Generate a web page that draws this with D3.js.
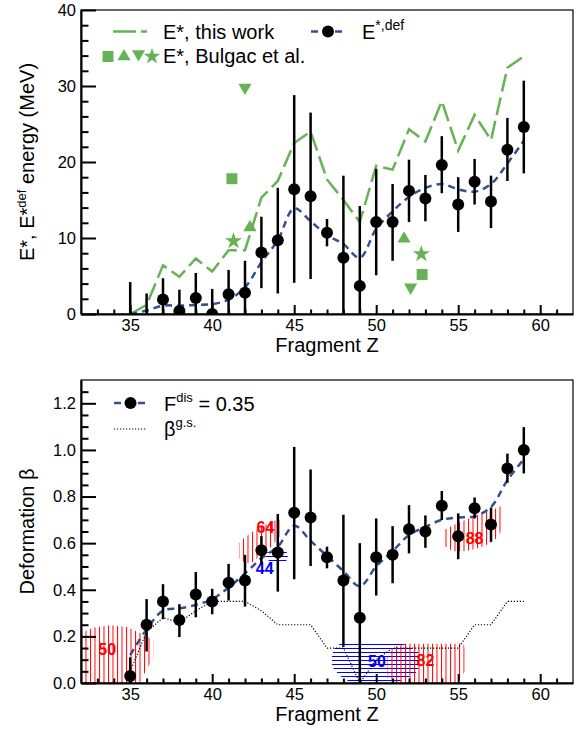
<!DOCTYPE html>
<html>
<head>
<meta charset="utf-8">
<script src="https://cdn.jsdelivr.net/npm/d3@7"></script>
<style>
  body { margin: 0; background: #fff; }
  text { font-family: "Liberation Sans", Arial, Helvetica, sans-serif; }
</style>
</head>
<body>
<div id="chart"></div>
<script>
// fragment charge
const fragZ = [35, 36, 37, 38, 39, 40, 41, 42, 43, 44, 45, 46, 47, 48, 49, 50, 51, 52, 53, 54, 55, 56, 57, 58, 59];

// top panel: excitation energy (MeV)
const eStarThisWork = [0.0, 1.2, 6.4, 4.9, 7.3, 5.6, 8.4, 8.4, 15.3, 17.5, 22.5, 24.0, 17.7, 15.0, 12.1, 19.5, 19.0, 24.3, 22.7, 28.0, 21.5, 26.2, 22.9, 32.4, 33.9];
const eDefValue = [null, null, 1.9, 0.4, 2.1, 0.0, 2.6, 2.8, 8.1, 9.7, 16.4, 15.5, 10.7, 7.4, 3.7, 12.1, 12.1, 16.2, 15.2, 19.6, 14.4, 17.4, 14.8, 21.6, 24.6];
const eDefLow = [0, 0, 0, 0, 0, 0, 0, 0, 3.4, 2.7, 4.1, 4.6, 8.9, 0, 0, 5.1, 7.0, 12.1, 12.2, 15.9, 10.8, 14.4, 11.3, 17.5, 18.5];
const eDefHigh = [4.2, 2.7, 4.7, 3.2, 5.4, 3.3, 5.8, 7.0, 12.8, 16.6, 28.8, 26.5, 12.5, 18.2, 14.2, 19.1, 17.1, 20.3, 18.3, 23.4, 18.0, 20.4, 18.2, 25.8, 30.7];
const eDefSmooth = [0.0, 0.45, 1.1, 1.1, 1.2, 1.3, 1.9, 3.5, 6.8, 9.7, 13.9, 12.2, 10.4, 9.2, 7.4, 11.2, 13.5, 15.4, 16.6, 17.1, 16.4, 16.1, 17.1, 19.8, 22.8];

// Bulgac et al. points [Z, E*]
const bulgacSquare = [[41.2, 17.8], [52.8, 5.2]];
const bulgacUp = [[42.3, 11.4], [51.7, 9.9]];
const bulgacDown = [[42.0, 29.8], [52.1, 3.5]];
const bulgacStar = [[41.3, 9.6], [52.75, 7.9]];

// bottom panel: deformation
const betaValue = [0.03, 0.25, 0.35, 0.27, 0.38, 0.35, 0.43, 0.44, 0.57, 0.56, 0.73, 0.71, 0.54, 0.44, 0.28, 0.54, 0.55, 0.66, 0.65, 0.76, 0.63, 0.75, 0.68, 0.92, 1.00];
const betaLow = [0, 0.135, 0.274, 0.197, 0.282, 0.295, 0.354, 0.328, 0.51, 0.392, 0.445, 0.502, 0.492, 0.155, 0, 0.375, 0.428, 0.556, 0.58, 0.699, 0.531, 0.706, 0.606, 0.859, 0.899];
const betaHigh = [0.11, 0.36, 0.424, 0.338, 0.476, 0.404, 0.511, 0.55, 0.63, 0.725, 1.013, 0.916, 0.585, 0.722, 0.60, 0.706, 0.673, 0.763, 0.719, 0.824, 0.728, 0.796, 0.753, 0.984, 1.098];
const betaFdis = [0.12, 0.23, 0.31, 0.32, 0.335, 0.36, 0.41, 0.47, 0.535, 0.585, 0.675, 0.61, 0.545, 0.48, 0.415, 0.5, 0.565, 0.635, 0.67, 0.70, 0.71, 0.715, 0.755, 0.87, 0.96];
const betaGs = [0.05, 0.22, 0.28, 0.26, 0.31, 0.35, 0.35, 0.35, 0.31, 0.25, 0.25, 0.25, 0.15, 0.15, 0.0, 0.10, 0.15, 0.15, 0.15, 0.15, 0.15, 0.25, 0.25, 0.35, 0.35];

// shell regions, outlines in [Z, beta]
const shellRegions = [
  { hatch: 'red', pts: [[32, 0], [32, 0.215], [32.8, 0.238], [33.8, 0.248], [34.8, 0.24], [35.6, 0.215], [36.4, 0.185], [36.4, 0.10], [36.0, 0.06], [35.6, 0]] },
  { hatch: 'red', pts: [[41.65, 0.535], [41.65, 0.6], [42.0, 0.625], [42.5, 0.65], [43.0, 0.67], [43.5, 0.69], [44.1, 0.70], [44.1, 0.63], [43.6, 0.585], [43.0, 0.55], [42.4, 0.515], [42.0, 0.515]] },
  { hatch: 'blue', pts: [[43.2, 0.545], [43.5, 0.572], [44.4, 0.575], [44.65, 0.55], [44.5, 0.52], [43.5, 0.52]] },
  { hatch: 'blue', pts: [[47.3, 0.12], [47.5, 0.155], [48.0, 0.176], [50.8, 0.176], [51.8, 0.165], [52.6, 0.13], [52.7, 0.08], [52.4, 0.04], [51.5, 0.01], [50.5, 0.0], [48.5, 0.0], [47.8, 0.03], [47.3, 0.07]] },
  { hatch: 'red', pts: [[50.7, 0.02], [50.7, 0.11], [51.0, 0.15], [51.6, 0.168], [55.3, 0.168], [55.4, 0.15], [55.4, 0.05], [55.0, 0.0], [51.0, 0.0]] },
  { hatch: 'red', pts: [[54.1, 0.59], [54.1, 0.655], [55.0, 0.688], [56.0, 0.715], [57.0, 0.74], [57.7, 0.76], [57.7, 0.66], [57.2, 0.61], [56.5, 0.585], [55.5, 0.565], [54.7, 0.565]] }
];
const shellLabels = [
  { text: '50', z: 33.6, b: 0.146, color: '#ff0000' },
  { text: '64', z: 43.25, b: 0.668, color: '#ff0000' },
  { text: '44', z: 43.2, b: 0.492, color: '#0000ff' },
  { text: '50', z: 50.05, b: 0.095, color: '#0000ff' },
  { text: '82', z: 53.0, b: 0.098, color: '#ff0000' },
  { text: '88', z: 56.0, b: 0.62, color: '#ff0000' }
];

const xMajor = [35, 40, 45, 50, 55, 60];
const xMinor = [33, 34, 36, 37, 38, 39, 41, 42, 43, 44, 46, 47, 48, 49, 51, 52, 53, 54, 56, 57, 58, 59, 61];
const yTopMajor = [0, 10, 20, 30, 40];
const yTopMinor = [2, 4, 6, 8, 12, 14, 16, 18, 22, 24, 26, 28, 32, 34, 36, 38];
const yBotMajor = [0, 0.2, 0.4, 0.6, 0.8, 1.0, 1.2];
const yBotMinor = [0.05, 0.1, 0.15, 0.25, 0.3, 0.35, 0.45, 0.5, 0.55, 0.65, 0.7, 0.75, 0.85, 0.9, 0.95, 1.05, 1.1, 1.15, 1.25];

const green = '#66b356';
const navy = '#34508e';

const width = 583;
const height = 729;

const svg = d3.select('#chart').append('svg')
  .attr('width', width)
  .attr('height', height)
  .attr('viewBox', `0 0 ${width} ${height}`);

const defs = svg.append('defs');

const hatchRed = defs.append('pattern').attr('id', 'hatch-red')
  .attr('patternUnits', 'userSpaceOnUse').attr('width', 4.5).attr('height', 10);
hatchRed.append('rect').attr('x', 0).attr('y', 0).attr('width', 1).attr('height', 10)
  .attr('fill', '#ff0000');

const hatchBlue = defs.append('pattern').attr('id', 'hatch-blue')
  .attr('patternUnits', 'userSpaceOnUse').attr('width', 10).attr('height', 4);
hatchBlue.append('rect').attr('x', 0).attr('y', 0).attr('width', 10).attr('height', 1)
  .attr('fill', '#0000ff');

const x = d3.scaleLinear().domain([32, 62]).range([81, 573]);
const yTop = d3.scaleLinear().domain([0, 40]).range([314, 10]);
const yBot = d3.scaleLinear().domain([0, 1.3]).range([683, 380]);

function clip(id, y) {
  defs.append('clipPath').attr('id', id).append('rect')
    .attr('x', x.range()[0]).attr('y', y.range()[1])
    .attr('width', x.range()[1] - x.range()[0])
    .attr('height', y.range()[0] - y.range()[1]);
}
clip('clip-top', yTop);
clip('clip-bot', yBot);

function drawAxes(y, major, minor, fmt) {
  const g = svg.append('g');
  g.append('rect')
    .attr('x', x.range()[0]).attr('y', y.range()[1])
    .attr('width', x.range()[1] - x.range()[0])
    .attr('height', y.range()[0] - y.range()[1])
    .attr('fill', 'none').attr('stroke', '#000').attr('stroke-width', 1.2);

  const xb = g.append('g').attr('transform', `translate(0, ${y.range()[0]})`);
  xb.call(d3.axisBottom(x).tickValues(xMajor).tickSize(-9).tickSizeOuter(0).tickPadding(5));
  xb.append('g').call(d3.axisBottom(x).tickValues(xMinor).tickSize(-4.5).tickFormat(''))
    .select('.domain').remove();

  const yl = g.append('g').attr('transform', `translate(${x.range()[0]}, 0)`);
  yl.call(d3.axisLeft(y).tickValues(major).tickSize(-15).tickSizeOuter(0).tickPadding(5).tickFormat(fmt));
  yl.append('g').call(d3.axisLeft(y).tickValues(minor).tickSize(-7.5).tickFormat(''))
    .select('.domain').remove();

  g.selectAll('.domain').attr('stroke-width', 2);
  g.selectAll('.tick line').attr('stroke-width', 2);
  g.selectAll('.tick text').attr('font-size', 16.5).attr('fill', '#000')
    .style('font-family', '"Liberation Sans", Arial, sans-serif');
  return g;
}

// ---------- top panel ----------
const topG = svg.append('g').attr('clip-path', 'url(#clip-top)');
const zData = fragZ.map((z, i) => ({ z, i }));

topG.append('path')
  .datum(zData)
  .attr('fill', 'none')
  .attr('stroke', green)
  .attr('stroke-width', 2.5)
  .attr('stroke-dasharray', '18,6')
  .attr('d', d3.line().x(d => x(d.z)).y(d => yTop(eStarThisWork[d.i])));

topG.append('path')
  .datum(zData)
  .attr('fill', 'none')
  .attr('stroke', navy)
  .attr('stroke-width', 2.5)
  .attr('stroke-dasharray', '7,5')
  .attr('d', d3.line().curve(d3.curveCatmullRom).x(d => x(d.z)).y(d => yTop(eDefSmooth[d.i])));

topG.selectAll('line.err')
  .data(zData)
  .join('line')
  .attr('class', 'err')
  .attr('x1', d => x(d.z)).attr('x2', d => x(d.z))
  .attr('y1', d => yTop(eDefLow[d.i])).attr('y2', d => yTop(eDefHigh[d.i]))
  .attr('stroke', '#000').attr('stroke-width', 2.5);

topG.selectAll('circle')
  .data(zData.filter(d => eDefValue[d.i] !== null))
  .join('circle')
  .attr('cx', d => x(d.z)).attr('cy', d => yTop(eDefValue[d.i]))
  .attr('r', 6).attr('fill', '#000');

const symbolSets = [
  { data: bulgacSquare, type: d3.symbolSquare, size: 120, rot: 0 },
  { data: bulgacUp, type: d3.symbolTriangle, size: 75, rot: 0 },
  { data: bulgacDown, type: d3.symbolTriangle, size: 75, rot: 180 },
  { data: bulgacStar, type: d3.symbolStar, size: 90, rot: 0 }
];
symbolSets.forEach(s => {
  topG.selectAll(null)
    .data(s.data)
    .join('path')
    .attr('transform', d => `translate(${x(d[0])}, ${yTop(d[1])}) rotate(${s.rot})`)
    .attr('d', d3.symbol().type(s.type).size(s.size))
    .attr('fill', green);
});

drawAxes(yTop, yTopMajor, yTopMinor, d3.format('d'));

// top legend
const legTop = svg.append('g');
legTop.append('line').attr('x1', 113).attr('x2', 147).attr('y1', 31.5).attr('y2', 31.5)
  .attr('stroke', green).attr('stroke-width', 2.5).attr('stroke-dasharray', '23,5');
legTop.append('text').attr('x', 163).attr('y', 39).attr('font-size', 20).text('E*, this work');

[[d3.symbolSquare, 108, 0, 120], [d3.symbolTriangle, 124, 0, 75], [d3.symbolTriangle, 138.5, 180, 75], [d3.symbolStar, 152, 0, 85]]
  .forEach(([type, px, rot, size]) => {
    legTop.append('path')
      .attr('transform', `translate(${px}, ${rot ? 54 : 56.5}) rotate(${rot})`)
      .attr('d', d3.symbol().type(type).size(size))
      .attr('fill', green);
  });
legTop.append('text').attr('x', 163).attr('y', 63).attr('font-size', 20).text('E*, Bulgac et al.');

legTop.append('line').attr('x1', 311).attr('x2', 345).attr('y1', 31.5).attr('y2', 31.5)
  .attr('stroke', navy).attr('stroke-width', 2.5).attr('stroke-dasharray', '7,5');
legTop.append('circle').attr('cx', 328).attr('cy', 31.5).attr('r', 6).attr('fill', '#000');
const tDef = legTop.append('text').attr('x', 362).attr('y', 39).attr('font-size', 20);
tDef.append('tspan').text('E');
tDef.append('tspan').attr('font-size', 14).attr('dy', -9).text('*,def');

// top titles
svg.append('text').attr('x', 327).attr('y', 352).attr('font-size', 20)
  .attr('text-anchor', 'middle').text('Fragment Z');
const yt = svg.append('text').attr('transform', 'translate(34, 162) rotate(-90)')
  .attr('font-size', 20).attr('text-anchor', 'middle');
yt.append('tspan').text('E*, E*');
yt.append('tspan').attr('font-size', 13).attr('dy', -8).text('def');
yt.append('tspan').attr('dy', 8).text(' energy (MeV)');

// ---------- bottom panel ----------
const botG = svg.append('g').attr('clip-path', 'url(#clip-bot)');

botG.selectAll('path.shell')
  .data(shellRegions)
  .join('path')
  .attr('class', 'shell')
  .attr('d', d => d3.line().curve(d3.curveLinearClosed).x(p => x(p[0])).y(p => yBot(p[1]))(d.pts))
  .attr('fill', d => `url(#hatch-${d.hatch})`)
  .attr('stroke', 'none');

botG.selectAll('text.shell')
  .data(shellLabels)
  .join('text')
  .attr('class', 'shell')
  .attr('x', d => x(d.z)).attr('y', d => yBot(d.b))
  .attr('dy', '0.36em')
  .attr('text-anchor', 'middle')
  .attr('font-size', 16).attr('font-weight', 'bold')
  .attr('fill', d => d.color)
  .text(d => d.text);

botG.append('path')
  .datum(zData)
  .attr('fill', 'none')
  .attr('stroke', '#000')
  .attr('stroke-width', 1.2)
  .attr('stroke-dasharray', '1.2,1.8')
  .attr('d', d3.line().x(d => x(d.z)).y(d => yBot(betaGs[d.i])));

botG.append('path')
  .datum(zData)
  .attr('fill', 'none')
  .attr('stroke', navy)
  .attr('stroke-width', 2.5)
  .attr('stroke-dasharray', '7,5')
  .attr('d', d3.line().curve(d3.curveCatmullRom).x(d => x(d.z)).y(d => yBot(betaFdis[d.i])));

botG.selectAll('line.err')
  .data(zData)
  .join('line')
  .attr('class', 'err')
  .attr('x1', d => x(d.z)).attr('x2', d => x(d.z))
  .attr('y1', d => yBot(betaLow[d.i])).attr('y2', d => yBot(betaHigh[d.i]))
  .attr('stroke', '#000').attr('stroke-width', 2.5);

botG.selectAll('circle')
  .data(zData)
  .join('circle')
  .attr('cx', d => x(d.z)).attr('cy', d => yBot(betaValue[d.i]))
  .attr('r', 6).attr('fill', '#000');

drawAxes(yBot, yBotMajor, yBotMinor, d3.format('.1f'));

// bottom legend
const legBot = svg.append('g');
legBot.append('line').attr('x1', 114).attr('x2', 146).attr('y1', 403).attr('y2', 403)
  .attr('stroke', navy).attr('stroke-width', 2.5).attr('stroke-dasharray', '7,5');
legBot.append('circle').attr('cx', 130.5).attr('cy', 403).attr('r', 6).attr('fill', '#000');
const tF = legBot.append('text').attr('x', 164).attr('y', 411).attr('font-size', 20);
tF.append('tspan').text('F');
tF.append('tspan').attr('font-size', 13).attr('dy', -9).text('dis');
tF.append('tspan').attr('dy', 9).text(' = 0.35');

legBot.append('line').attr('x1', 114).attr('x2', 146).attr('y1', 429).attr('y2', 429)
  .attr('stroke', '#000').attr('stroke-width', 1.2).attr('stroke-dasharray', '1.2,1.8');
const tB = legBot.append('text').attr('x', 164).attr('y', 436).attr('font-size', 20);
tB.append('tspan').text('β');
tB.append('tspan').attr('font-size', 13).attr('dy', -9).text('g.s.');

svg.append('text').attr('x', 327).attr('y', 721).attr('font-size', 20)
  .attr('text-anchor', 'middle').text('Fragment Z');
svg.append('text').attr('transform', 'translate(34, 531.5) rotate(-90)')
  .attr('font-size', 20).attr('text-anchor', 'middle').text('Deformation β');
</script>
</body>
</html>
